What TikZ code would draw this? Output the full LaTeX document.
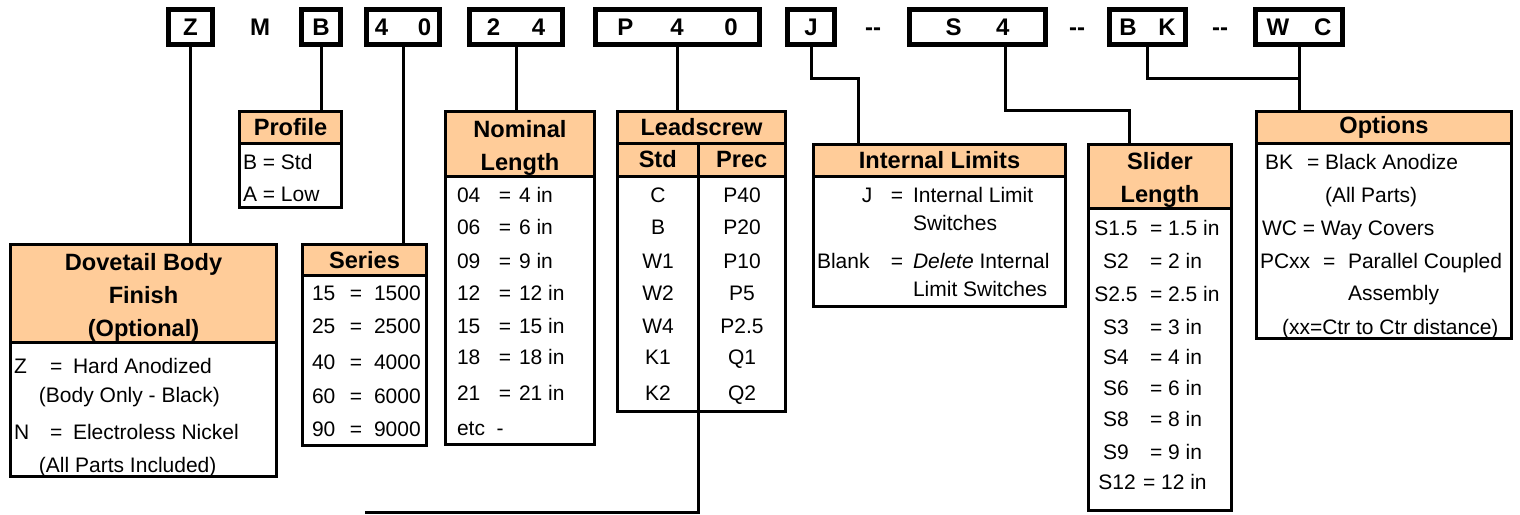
\documentclass[tikz,border=0pt]{standalone}
\usepackage{fontspec}
\setmainfont{Liberation Sans}
\usetikzlibrary{positioning}
\definecolor{peach}{HTML}{FFCC99}
\newcommand{\toprule}{\rule{0pt}{12.6pt}}

\begin{document}
\begin{tikzpicture}[
          x=0.5pt, y=-0.5pt,
          every node/.style={inner sep=0pt, outer sep=0pt, font=\fontsize{10.5}{12.6}\selectfont},
          code/.style={draw, line width=2.5pt, minimum height=17.5pt, font=\fontsize{12}{14}\selectfont\bfseries},
          codetxt/.style={font=\fontsize{12}{14}\selectfont\bfseries},
          head/.style={draw, fill=peach, line width=1.5pt, anchor=north west, align=center,
                       font=\fontsize{11.8}{16.5}\selectfont\bfseries},
          body/.style={draw, line width=1.5pt, anchor=north west},
          row/.style={anchor=base west},
          eq/.style={anchor=base},
          link/.style={line width=1.5pt}
        ]
        \useasboundingbox (0,0) rectangle (1520,514);

        % part number
        \node[code, minimum width=22pt] (zb) at (190.5,27) {Z};
        \node[codetxt] (mb) at (260,27) {M};
        \node[code, minimum width=19.5pt] (bb) at (321,27) {B};
        \node[code, minimum width=36.5pt] (fb) at (403,27) {4\hspace{14.8pt}0};
        \node[code, minimum width=46.5pt] (nb) at (516,27) {2\hspace{15.8pt}4};
        \node[code, minimum width=82pt] (pb) at (677.5,27) {P\hspace{18.6pt}4\hspace{20.3pt}0};
        \node[code, minimum width=23.5pt] (jb) at (811,27) {J};
        \node[codetxt, anchor=base] (d1) at (873,35.6) {-{}-};
        \node[code, minimum width=68pt] (sb) at (977.5,27) {S\hspace{17.2pt}4\hspace{17.3pt}};
        \node[codetxt, anchor=base] (d2) at (1077,35.6) {-{}-};
        \node[code, minimum width=38pt] (bkb) at (1147.5,27) {B\hspace{10.8pt}K};
        \node[codetxt, anchor=base] (d3) at (1220,35.6) {-{}-};
        \node[code, minimum width=43.5pt] (wcb) at (1299,27) {W\hspace{12.5pt}C};

        % Dovetail Body Finish
        \node[head, minimum width=133pt, minimum height=48.75pt] (dov) at (10.5,244.5) {\toprule Dovetail Body\\Finish\\(Optional)};
        \node[body, minimum width=133pt, minimum height=67.25pt] (dovb) at (dov.south west) {};
        \node[row] (dz) at (14,373.5) {Z};
        \node[row] (dze) at (50,373.5) {=};
        \node[row] (dzt) at (73,373.5) {Hard Anodized};
        \node[row] (dzs) at (39,402.5) {(Body Only - Black)};
        \node[row] (dn) at (14,439.5) {N};
        \node[row] (dne) at (50,439.5) {=};
        \node[row] (dnt) at (73,439.5) {Electroless Nickel};
        \node[row] (dns) at (39,472.5) {(All Parts Included)};

        % Profile
        \node[head, minimum width=51pt, minimum height=15.75pt] (prof) at (239.5,111.5) {Profile};
        \node[body, minimum width=51pt, minimum height=32.25pt] (profb) at (prof.south west) {};
        \node[row] (pr1) at (243,169.5) {B = Std};
        \node[row] (pr2) at (243,201.5) {A = Low};

        % Series
        \node[head, minimum width=62pt, minimum height=15.25pt] (ser) at (302.5,244.5) {Series};
        \node[body, minimum width=62pt, minimum height=85.25pt] (serb) at (ser.south west) {};
        \foreach \y/\a/\b [count=\i] in {300.5/15/1500, 333.5/25/2500, 369.5/40/4000, 403.5/60/6000, 436.5/90/9000} {
            \node[row] (sk\i) at (312,\y) {\a};
            \node[eq] (se\i) at (356,\y) {=};
            \node[row] (sv\i) at (374,\y) {\b};
        }

        % Nominal Length
        \node[head, minimum width=74.5pt, minimum height=32.25pt] (nom) at (445.5,111.5) {\toprule Nominal\\Length};
        \node[body, minimum width=74.5pt, minimum height=134.25pt] (nomb) at (nom.south west) {};
        \foreach \y/\a/\b [count=\i] in {202.5/04/4, 234.5/06/6, 268.5/09/9, 300.5/12/12, 333.5/15/15, 364.5/18/18, 400.5/21/21} {
            \node[row] (nk\i) at (457,\y) {\a};
            \node[eq] (ne\i) at (505,\y) {=};
            \node[row] (nv\i) at (519,\y) {\b\ in};
        }
        \node[row] (netc) at (457,435.5) {etc\ \ -};

        % Leadscrew
        \node[head, minimum width=84pt, minimum height=15.75pt] (lead) at (617.5,111.5) {Leadscrew};
        \node[head, minimum width=40.25pt, minimum height=16.5pt] (lstdh) at (lead.south west) {Std};
        \node[head, minimum width=43.75pt, minimum height=16.5pt] (lpreh) at (lstdh.north east) {Prec};
        \node[body, minimum width=40.25pt, minimum height=117.75pt] (lstd) at (lstdh.south west) {};
        \node[body, minimum width=43.75pt, minimum height=117.75pt] (lpre) at (lstd.north east) {};
        \foreach \y/\a/\b [count=\i] in {202.5/C/P40, 234.5/B/P20, 268.5/W1/P10, 300.5/W2/P5, 333.5/W4/P2.5, 364.5/K1/Q1, 400.5/K2/Q2} {
            \node[eq] (lk\i) at (658,\y) {\a};
            \node[eq] (lp\i) at (742,\y) {\b};
        }

        % Internal Limits
        \node[head, minimum width=126pt, minimum height=15.75pt] (il) at (813.5,144.5) {Internal Limits};
        \node[body, minimum width=126pt, minimum height=65.25pt] (ilb) at (il.south west) {};
        \node[eq] (ij) at (867,202.5) {J};
        \node[eq] (ije) at (897,202.5) {=};
        \node[row] (ijt) at (913,202.5) {Internal Limit};
        \node[row] (ijs) at (913,230.5) {Switches};
        \node[row] (ib) at (817,268.5) {Blank};
        \node[eq] (ibe) at (897,268.5) {=};
        \node[row] (ibt) at (913,268.5) {\textit{Delete} Internal};
        \node[row] (ibs) at (913,296.5) {Limit Switches};

        % Slider Length
        \node[head, minimum width=71.5pt, minimum height=31.75pt] (sl) at (1088.5,144.5) {\toprule Slider\\Length};
        \node[body, minimum width=71.5pt, minimum height=151.25pt] (slb) at (sl.south west) {};
        \foreach \y/\a/\b [count=\i] in {235.5/S1.5/1.5, 268.5/S2/2, 301.5/S2.5/2.5, 334.5/S3/3, 364.5/S4/4, 395.5/S6/6, 426.5/S8/8, 459.5/S9/9} {
            \node[eq] (lk\i) at (1116,\y) {\a};
            \node[row] (lv\i) at (1150,\y) {= \b\ in};
        }
        \node[eq] (lk12) at (1117,489.5) {S12};
        \node[row] (lv12) at (1143,489.5) {= 12 in};

        % Options
        \node[head, minimum width=127.5pt, minimum height=15.75pt] (opt) at (1256.5,111.5) {Options};
        \node[body, minimum width=127.5pt, minimum height=97.75pt] (optb) at (opt.south west) {};
        \node[row] (obk) at (1265,169.5) {BK};
        \node[row] (obkt) at (1307,169.5) {= Black Anodize};
        \node[row] (obks) at (1325,202.5) {(All Parts)};
        \node[row] (owc) at (1262,235.5) {WC = Way Covers};
        \node[row] (opc) at (1260,268.5) {PCxx};
        \node[row] (opce) at (1323,268.5) {=};
        \node[row] (opct) at (1348,268.5) {Parallel Coupled};
        \node[row] (opcs) at (1348,300.5) {Assembly};
        \node[row] (opcd) at (1282,334.5) {(xx=Ctr to Ctr distance)};

        % connectors
        \coordinate (jturn) at (858,78);
        \coordinate (sturn) at (1129,110);
        \coordinate (oturn) at (1299,78);
        \coordinate (lsend) at (365,512);
        \draw[link] (zb.south) -- (zb.south |- dov.north);
        \draw[link] (bb.south) -- (bb.south |- prof.north);
        \draw[link] (fb.south) -- (fb.south |- ser.north);
        \draw[link] (nb.south) -- (nb.south |- nom.north);
        \draw[link] (pb.south) -- (pb.south |- lead.north);
        \draw[link] (jb.south) |- (jturn) -- (jturn |- il.north);
        \draw[link] ([xshift=13.75pt]sb.south) |- (sturn) -- (sturn |- sl.north);
        \draw[link] (bkb.south) |- (oturn);
        \draw[link] (wcb.south) -- (wcb.south |- opt.north);
        \draw[link] (lstd.south east) |- (lsend);

        \end{tikzpicture}
\end{document}
